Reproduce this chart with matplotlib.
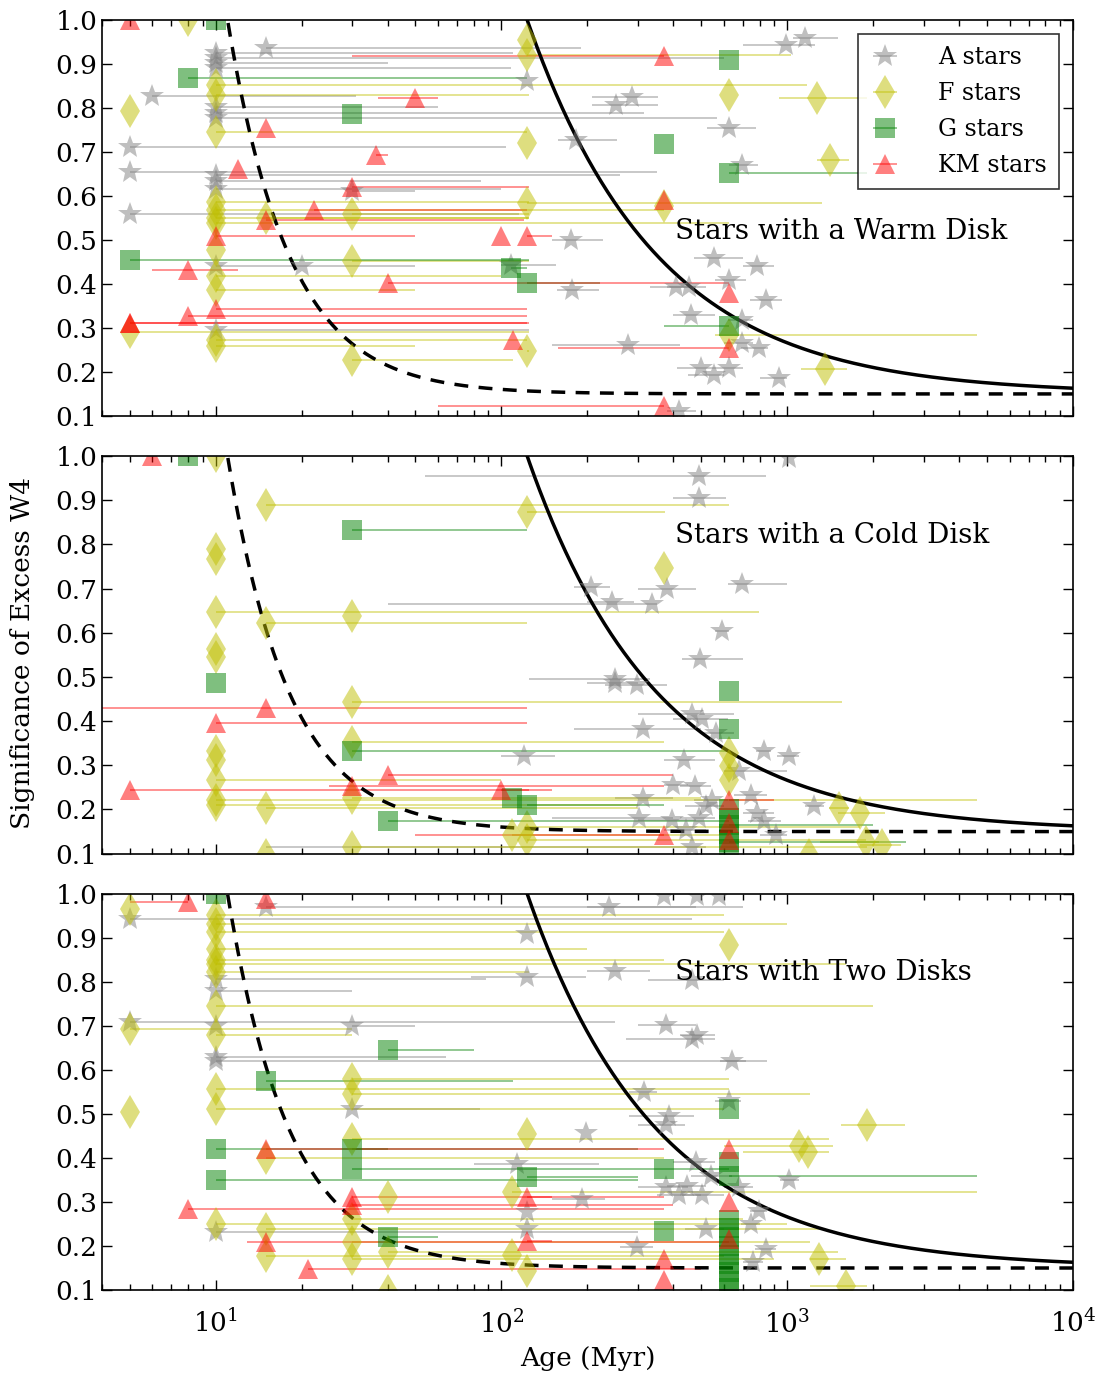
import numpy as np
import matplotlib
matplotlib.use("Agg")
import matplotlib.pyplot as plt
from matplotlib.ticker import LogLocator, FixedLocator, FormatStrFormatter

plt.rcParams['font.family'] = 'serif'
plt.rcParams['font.serif'] = ['DejaVu Serif']
plt.rcParams['mathtext.fontset'] = 'dejavuserif'

# rows are (age [Myr], significance, age_min, age_max)
warm_A = [
    (15, 0.936, 15, 190), (10, 0.924, 10, 110), (10, 0.913, 10, 600), (10, 0.902, 10, 40),
    (10, 0.890, 10, 108), (6, 0.827, 6, 31), (123, 0.860, 123, 123), (10, 0.803, 10, 60),
    (10, 0.788, 10, 315), (10, 0.777, 10, 567), (5, 0.711, 5, 104), (5, 0.654, 5, 350),
    (10, 0.648, 10, 260), (10, 0.633, 10, 85), (10, 0.615, 10, 100), (30, 0.610, 30, 50),
    (5, 0.559, 5, 115), (10, 0.440, 10, 50), (20, 0.440, 20, 20), (10, 0.296, 10, 125),
    (108, 0.444, 100, 155), (182, 0.728, 158, 254), (175, 0.500, 150, 226), (177, 0.387, 157, 220),
    (251, 0.807, 207, 353), (287, 0.824, 207, 353), (625, 0.754, 523, 777), (697, 0.670, 625, 790),
    (989, 0.943, 700, 1250), (1153, 0.958, 1050, 1500), (555, 0.459, 470, 700), (786, 0.441, 700, 900),
    (841, 0.364, 740, 960), (625, 0.410, 560, 720), (453, 0.394, 380, 520), (408, 0.394, 330, 480),
    (459, 0.330, 400, 560), (697, 0.319, 620, 760), (796, 0.255, 690, 860), (278, 0.262, 150, 420),
    (498, 0.209, 410, 560), (555, 0.194, 450, 600), (625, 0.209, 560, 700), (697, 0.266, 600, 760),
    (935, 0.186, 800, 1000), (418, 0.111, 380, 480),
]
warm_F = [
    (8, 1.0, 8, 8), (10, 0.852, 10, 1170), (10, 0.830, 10, 125), (5, 0.792, 5, 5),
    (10, 0.746, 10, 123), (10, 0.587, 10, 125), (30, 0.559, 30, 125), (15, 0.550, 15, 125),
    (10, 0.569, 10, 370), (10, 0.550, 10, 125), (10, 0.538, 10, 625), (10, 0.478, 10, 10),
    (30, 0.451, 30, 125), (10, 0.417, 10, 100), (10, 0.387, 10, 50), (5, 0.290, 5, 125),
    (10, 0.273, 10, 123), (10, 0.258, 10, 50), (30, 0.228, 30, 110), (123, 0.955, 123, 123),
    (123, 0.920, 123, 1030), (123, 0.721, 123, 123), (123, 0.584, 123, 1320), (123, 0.247, 123, 125),
    (625, 0.283, 560, 4600), (625, 0.830, 625, 625), (370, 0.577, 370, 370),
    (1274, 0.822, 935, 1900), (1408, 0.682, 1274, 1650), (1357, 0.207, 1120, 1620),
]
warm_G = [
    (10, 1.0, 10, 10), (8, 0.868, 8, 123), (30, 0.786, 30, 30), (5, 0.455, 5, 125),
    (625, 0.908, 625, 625), (370, 0.718, 370, 370), (625, 0.653, 625, 1900),
    (108, 0.436, 108, 123), (123, 0.402, 123, 221), (625, 0.304, 372, 625),
]
warm_KM = [
    (5, 1.0, 5, 5), (370, 0.917, 30, 370), (50, 0.822, 37, 60), (15, 0.754, 15, 15),
    (36.5, 0.693, 36.5, 40), (12, 0.660, 12, 12), (30, 0.621, 30, 125), (22, 0.569, 22, 123),
    (15, 0.546, 15, 120), (10, 0.508, 10, 50), (8, 0.432, 6, 12), (40, 0.402, 40, 625),
    (10, 0.342, 10, 123), (8, 0.326, 8, 123), (5, 0.311, 5, 123), (5, 0.311, 5, 125),
    (110, 0.273, 110, 110), (625, 0.379, 625, 625), (625, 0.254, 158, 625), (370, 0.591, 370, 370),
    (100, 0.508, 100, 100), (123, 0.508, 123, 150), (370, 0.122, 60, 370),
]

cold_A = [
    (491, 0.955, 54, 841), (491, 0.904, 398, 609), (206, 0.703, 180, 240), (243, 0.670, 200, 290),
    (337, 0.665, 40, 350), (380, 0.698, 300, 480), (693, 0.711, 620, 1000), (589, 0.605, 560, 625),
    (495, 0.540, 430, 700), (249, 0.495, 125, 330), (249, 0.486, 200, 300), (299, 0.481, 230, 380),
    (465, 0.415, 300, 650), (505, 0.404, 400, 620), (313, 0.382, 180, 500), (562, 0.373, 500, 650),
    (120, 0.320, 100, 154), (435, 0.313, 370, 560), (677, 0.286, 600, 1000), (830, 0.332, 780, 880),
    (1014, 0.322, 920, 1100), (398, 0.256, 370, 450), (476, 0.252, 420, 540), (313, 0.226, 250, 400),
    (519, 0.207, 440, 600), (547, 0.222, 470, 620), (491, 0.180, 420, 560), (396, 0.177, 300, 480),
    (441, 0.154, 370, 520), (465, 0.116, 15, 520), (303, 0.180, 150, 400), (745, 0.233, 650, 850),
    (786, 0.192, 700, 900), (830, 0.173, 730, 950), (912, 0.142, 800, 1000), (1240, 0.207, 1150, 1350),
    (1014, 0.995, 1014, 1014),
]
cold_F = [
    (10, 1.0, 10, 10), (15, 0.889, 15, 625), (123, 0.873, 123, 373), (10, 0.790, 10, 10),
    (10, 0.767, 10, 10), (10, 0.646, 10, 796), (30, 0.637, 30, 30), (15, 0.623, 15, 123),
    (10, 0.563, 10, 10), (10, 0.544, 10, 10), (30, 0.443, 30, 1550), (10, 0.332, 10, 10),
    (10, 0.313, 10, 10), (30, 0.353, 30, 370), (10, 0.267, 10, 100), (10, 0.222, 10, 4620),
    (10, 0.210, 10, 300), (15, 0.203, 15, 300), (30, 0.226, 30, 500), (30, 0.116, 30, 1900),
    (15, 0.097, 15, 15), (370, 0.746, 370, 370), (625, 0.328, 625, 625), (625, 0.298, 625, 625),
    (625, 0.267, 625, 625), (109, 0.142, 109, 625), (123, 0.161, 123, 1800), (123, 0.131, 123, 1880),
    (1513, 0.203, 1400, 1650), (1796, 0.192, 1500, 2200), (1884, 0.127, 1300, 2100),
    (2143, 0.120, 1800, 2500), (1194, 0.097, 1194, 1194),
]
cold_G = [
    (8, 1.0, 8, 8), (30, 0.833, 30, 123), (10, 0.487, 10, 10), (30, 0.332, 30, 625),
    (40, 0.175, 40, 625), (109, 0.226, 109, 109), (123, 0.210, 123, 370), (625, 0.468, 625, 625),
    (625, 0.382, 625, 625), (625, 0.200, 625, 625), (625, 0.180, 625, 625), (625, 0.166, 625, 2000),
    (625, 0.145, 625, 625), (625, 0.127, 625, 2600), (625, 0.110, 625, 625),
]
cold_KM = [
    (6, 1.0, 6, 6), (15, 0.430, 3, 123), (10, 0.396, 10, 123), (40, 0.279, 40, 400),
    (5, 0.245, 5, 125), (30, 0.252, 25, 370), (100, 0.245, 100, 150), (625, 0.222, 625, 900),
    (625, 0.169, 625, 625), (625, 0.131, 625, 625), (370, 0.142, 50, 370),
]

two_A = [
    (15, 0.970, 15, 700), (5, 0.943, 5, 465), (10, 0.807, 10, 88), (10, 0.780, 10, 30),
    (5, 0.708, 5, 250), (10, 0.700, 10, 10), (30, 0.699, 30, 50), (10, 0.629, 10, 64),
    (10, 0.621, 10, 850), (30, 0.510, 30, 84), (10, 0.232, 10, 300), (238, 0.970, 200, 480),
    (370, 0.995, 370, 370), (484, 0.995, 484, 484), (577, 0.995, 577, 577), (123, 0.909, 123, 123),
    (123, 0.811, 78, 197), (249, 0.824, 200, 330), (465, 0.803, 325, 600), (376, 0.702, 300, 480),
    (465, 0.670, 272, 560), (484, 0.680, 420, 560), (643, 0.619, 580, 720), (315, 0.549, 280, 350),
    (625, 0.530, 560, 690), (385, 0.496, 280, 470), (376, 0.475, 300, 440), (197, 0.457, 197, 197),
    (113, 0.386, 80, 220), (192, 0.307, 150, 230), (376, 0.333, 300, 450), (418, 0.315, 350, 500),
    (447, 0.337, 380, 520), (478, 0.390, 400, 560), (505, 0.315, 430, 600), (540, 0.360, 460, 640),
    (678, 0.333, 600, 760), (123, 0.277, 123, 123), (123, 0.239, 123, 123), (299, 0.197, 260, 340),
    (519, 0.239, 440, 600), (1014, 0.349, 940, 1100), (745, 0.250, 690, 800), (796, 0.280, 740, 850),
    (841, 0.193, 770, 910), (758, 0.163, 700, 820),
]
two_F = [
    (5, 0.966, 5, 5), (10, 0.951, 10, 600), (10, 0.932, 10, 1000), (10, 0.913, 10, 600),
    (10, 0.875, 10, 200), (10, 0.849, 10, 370), (10, 0.841, 10, 1600), (10, 0.822, 10, 125),
    (10, 0.746, 10, 2000), (5, 0.693, 5, 30), (10, 0.680, 10, 30), (30, 0.580, 30, 625),
    (30, 0.545, 30, 1200), (10, 0.557, 10, 625), (10, 0.511, 10, 600), (5, 0.504, 5, 5),
    (15, 0.400, 15, 370), (30, 0.443, 30, 1400), (40, 0.311, 40, 40), (10, 0.250, 10, 1000),
    (15, 0.239, 15, 1300), (15, 0.178, 15, 600), (30, 0.261, 30, 700), (30, 0.208, 30, 1200),
    (30, 0.170, 30, 900), (40, 0.186, 40, 1500), (40, 0.097, 40, 40), (625, 0.883, 625, 625),
    (123, 0.455, 123, 123), (109, 0.322, 109, 4600), (109, 0.180, 109, 109), (123, 0.144, 123, 123),
    (1909, 0.475, 1540, 2576), (1099, 0.428, 600, 1450), (1183, 0.413, 700, 1400),
    (1295, 0.170, 1200, 1600), (1610, 0.110, 1200, 1900),
]
two_G = [
    (10, 1.0, 10, 10), (40, 0.644, 40, 80), (15, 0.574, 15, 110), (10, 0.420, 10, 40),
    (30, 0.420, 30, 300), (30, 0.375, 30, 625), (10, 0.350, 10, 300), (40, 0.220, 40, 60),
    (625, 0.511, 625, 625), (625, 0.390, 625, 625), (625, 0.360, 625, 4630), (370, 0.375, 370, 370),
    (123, 0.356, 123, 300), (370, 0.235, 370, 370), (625, 0.260, 625, 625), (625, 0.240, 625, 625),
    (625, 0.220, 625, 625), (625, 0.200, 625, 625), (625, 0.180, 625, 625), (625, 0.160, 625, 625),
    (625, 0.140, 625, 625), (625, 0.120, 625, 625), (625, 0.105, 625, 625),
]
two_KM = [
    (8, 0.981, 5, 8), (15, 0.989, 15, 15), (15, 0.420, 15, 370), (30, 0.311, 30, 150),
    (30, 0.292, 30, 400), (8, 0.284, 8, 370), (15, 0.210, 12.9, 625), (21, 0.148, 21, 500),
    (625, 0.420, 625, 625), (123, 0.311, 123, 370), (123, 0.211, 123, 150), (625, 0.301, 625, 625),
    (625, 0.217, 625, 625), (370, 0.170, 370, 370), (370, 0.122, 370, 370),
]

panels = [
    ("Stars with a Warm Disk", [warm_A, warm_F, warm_G, warm_KM]),
    ("Stars with a Cold Disk", [cold_A, cold_F, cold_G, cold_KM]),
    ("Stars with Two Disks", [two_A, two_F, two_G, two_KM]),
]
labels = ["A stars", "F stars", "G stars", "KM stars"]
markers = ["*", "d", "s", "^"]
colors = ["gray", "y", "g", "r"]
msizes = [18, 17, 14, 15]

# decay curves: floor + amp * (t0 / t) ** p
floor, amp = 0.15, 0.85
warm_t0, warm_p = 123.0, 0.95
cold_t0, cold_p = 11.0, 2.0

fig = plt.figure(figsize=(11.05, 13.8), dpi=100)
boxes = [[0.0923, 0.6986, 0.8787, 0.2870],
         [0.0923, 0.3814, 0.8787, 0.2882],
         [0.0923, 0.0652, 0.8787, 0.2872]]
text_y = [0.465, 0.80, 0.80]

t = np.logspace(np.log10(4), 4, 600)
for i, (title, groups) in enumerate(panels):
    ax = fig.add_axes(boxes[i])
    for rows, lab, mk, c, ms in zip(groups, labels, markers, colors, msizes):
        d = np.array(rows, dtype=float)
        xerr = [d[:, 0] - d[:, 2], d[:, 3] - d[:, 0]]
        ax.errorbar(d[:, 0], d[:, 1], xerr=xerr, fmt=mk, color=c, ecolor=c,
                    ms=ms, mew=0, alpha=0.5, capsize=6, elinewidth=1.2, label=lab)
    ax.plot(t, floor + amp * (warm_t0 / t) ** warm_p, 'k-', lw=2.5)
    ax.plot(t, floor + amp * (cold_t0 / t) ** cold_p, 'k--', lw=2.5, dashes=(4, 3))
    ax.set_xscale('log')
    ax.set_xlim(4, 1e4)
    ax.set_ylim(0.1, 1.0)
    ax.yaxis.set_major_locator(FixedLocator(np.arange(0.1, 1.01, 0.1)))
    ax.yaxis.set_major_formatter(FormatStrFormatter('%.1f'))
    ax.xaxis.set_major_locator(LogLocator(base=10))
    ax.xaxis.set_minor_locator(LogLocator(base=10, subs=np.arange(2, 10)))
    ax.tick_params(which='both', direction='in', top=True, right=True, labelsize=19)
    ax.tick_params(which='major', length=7, width=1)
    ax.tick_params(which='minor', length=4, width=1)
    ax.tick_params(axis='x', pad=14)
    for s in ax.spines.values():
        s.set_linewidth(1.2)
    ax.text(0.59, text_y[i], title, transform=ax.transAxes, fontsize=20, va='center')
    if i < 2:
        ax.tick_params(labelbottom=False)
    if i == 0:
        leg = ax.legend(loc='upper right', numpoints=1, fontsize=17, fancybox=False,
                        borderaxespad=0.6, handlelength=1.3, labelspacing=0.55,
                        handletextpad=1.6, borderpad=0.5)
        leg.get_frame().set_edgecolor('k')
        leg.get_frame().set_linewidth(1.2)
    if i == 2:
        ax.set_xlabel("Age (Myr)", fontsize=19, labelpad=6)

fig.text(0.02, 0.527, "Significance of Excess W4", rotation=90, fontsize=19,
         va='center', ha='center')

fig.savefig("out.png", dpi=100)
